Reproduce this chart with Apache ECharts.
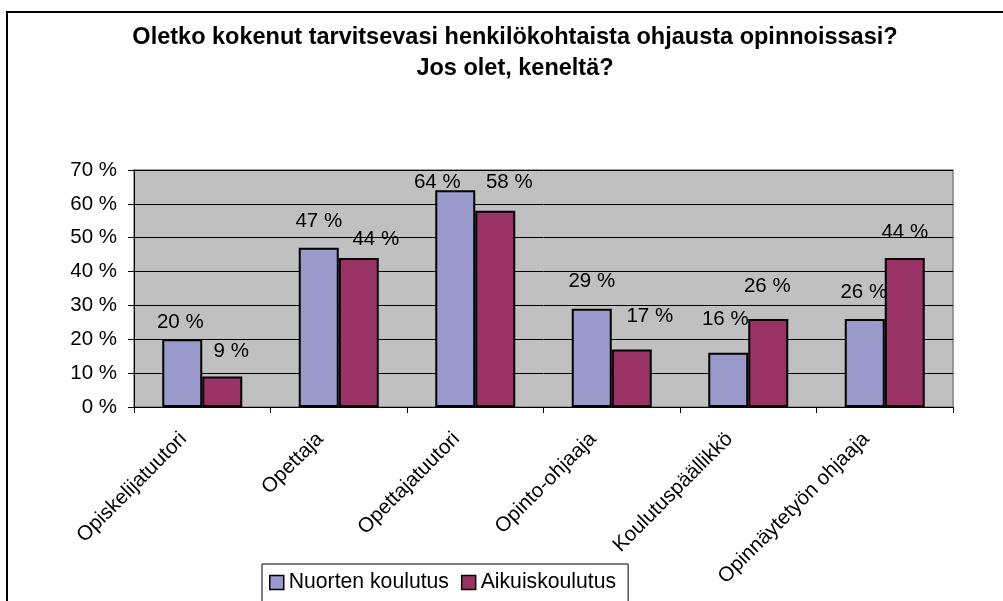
<!DOCTYPE html>
<html>
<head>
<meta charset="utf-8">
<script src="https://cdn.jsdelivr.net/npm/echarts@6/dist/echarts.min.js"></script>
<style>
  html, body { margin: 0; padding: 0; background: #fff; }
  #chart { width: 1003px; height: 601px; }
</style>
</head>
<body>
<div id="chart"></div>
<script>
// kategoriat ja arvot (%)
const categories = ['Opiskelijatuutori', 'Opettaja', 'Opettajatuutori', 'Opinto-ohjaaja', 'Koulutuspäällikkö', 'Opinnäytetyön ohjaaja']
const nuortenKoulutus = [20, 47, 64, 29, 16, 26]
const aikuiskoulutus = [9, 44, 58, 17, 26, 44]
const seriesNames = ['Nuorten koulutus', 'Aikuiskoulutus']

// label nudges like in the original sheet
const nuortenLabelNudge = [[-2, -7], [0, -17], [-18, 2], [0, -17], [-3, -23], [-1, -17]]
const aikuisLabelNudge = [[9, -15], [17, -9], [14, -18], [18, -23], [-1, -23], [0, -16]]

const font = 'Liberation Sans, Arial, sans-serif'

const chart = echarts.init(document.getElementById('chart'))

function withLabels(values, nudges) {
  return values.map((v, i) => ({
    value: v,
    label: { offset: nudges[i] }
  }))
}

const barLabel = {
  show: true,
  position: 'top',
  distance: 0,
  formatter: '{c} %',
  color: '#000',
  fontFamily: font,
  fontSize: 20.5,
  lineHeight: 20
}

chart.setOption({
  animation: false,
  backgroundColor: '#fff',
  graphic: [{
    type: 'rect',
    shape: { x: 7, y: 12, width: 1100, height: 700 },
    style: { fill: 'none', stroke: '#000', lineWidth: 2 },
    z: -1
  }],
  title: {
    text: 'Oletko kokenut tarvitsevasi henkilökohtaista ohjausta opinnoissasi?\nJos olet, keneltä?',
    left: 510,
    textAlign: 'center',
    top: 17,
    textStyle: {
      fontFamily: font,
      fontWeight: 'bold',
      fontSize: 23.5,
      lineHeight: 31,
      color: '#000'
    }
  },
  legend: {
    data: seriesNames,
    left: 262,
    top: 564,
    orient: 'horizontal',
    icon: 'rect',
    itemWidth: 14,
    itemHeight: 14,
    itemGap: 12,
    padding: [8, 12, 12, 7],
    borderColor: '#000',
    borderWidth: 1,
    backgroundColor: '#fff',
    itemStyle: { borderColor: '#000', borderWidth: 1.5 },
    textStyle: { fontFamily: font, fontSize: 21.2, color: '#000' }
  },
  grid: {
    left: 134,
    right: 50,
    top: 170,
    bottom: 194,
    show: true,
    backgroundColor: '#C0C0C0',
    borderColor: '#808080',
    borderWidth: 1.5
  },
  xAxis: {
    type: 'category',
    data: categories,
    axisLine: { show: true, lineStyle: { color: '#000', width: 1 } },
    axisTick: { show: true, length: 6, lineStyle: { color: '#000' } },
    axisLabel: {
      interval: 0,
      rotate: 45,
      margin: 25,
      verticalAlign: 'bottom',
      padding: [0, 16, 0, 0],
      color: '#000',
      fontFamily: font,
      fontSize: 20.5
    }
  },
  yAxis: {
    type: 'value',
    min: 0,
    max: 70,
    interval: 10,
    axisLine: { show: true, lineStyle: { color: '#000', width: 1 } },
    axisTick: { show: true, length: 6, lineStyle: { color: '#000' } },
    splitLine: { show: true, lineStyle: { color: '#000', width: 1 } },
    axisLabel: {
      formatter: '{value} %',
      margin: 17,
      color: '#000',
      fontFamily: font,
      fontSize: 20.5
    }
  },
  series: [{
    name: seriesNames[0],
    type: 'bar',
    barWidth: 40,
    barGap: '0%',
    itemStyle: { color: '#9999CC', borderColor: '#000', borderWidth: 2 },
    label: barLabel,
    data: withLabels(nuortenKoulutus, nuortenLabelNudge)
  },
  {
    name: seriesNames[1],
    type: 'bar',
    barWidth: 40,
    barGap: '0%',
    itemStyle: { color: '#993366', borderColor: '#000', borderWidth: 2 },
    label: barLabel,
    data: withLabels(aikuiskoulutus, aikuisLabelNudge)
  }
  ]
})
</script>
</body>
</html>
